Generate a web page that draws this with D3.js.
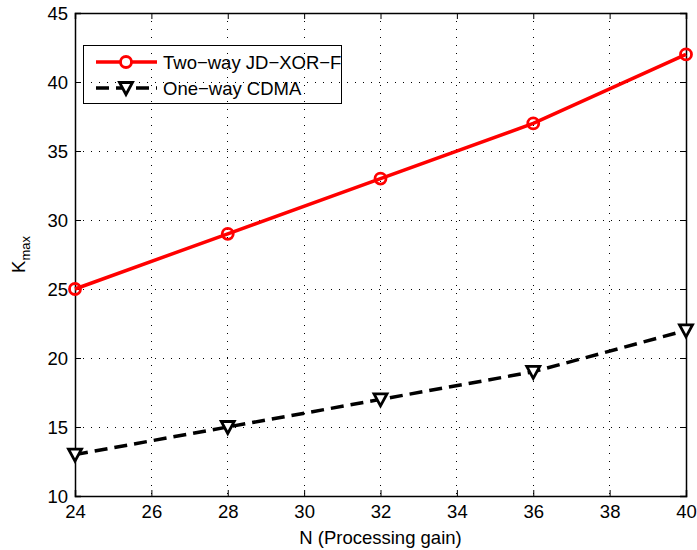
<!DOCTYPE html>
<html>
<head>
<meta charset="utf-8">
<script src="https://cdn.jsdelivr.net/npm/d3@7"></script>
<style>
  body { margin: 0; background: #fff; }
  text { font-family: "Liberation Sans", Arial, sans-serif; fill: #000; }
</style>
</head>
<body>
<div id="chart"></div>
<script>
// data
const processingGain = [24, 28, 32, 36, 40];
const twoWayJdXorF = [25, 29, 33, 37, 42];
const oneWayCdma = [13, 15, 17, 19, 22];
const xTicks = [24, 26, 28, 30, 32, 34, 36, 38, 40];
const yTicks = [10, 15, 20, 25, 30, 35, 40, 45];

const width = 697, height = 550;
const margin = {top: 13, right: 11, bottom: 54, left: 75};
const innerW = width - margin.left - margin.right;
const innerH = height - margin.top - margin.bottom;

const svg = d3.select('#chart').append('svg')
  .attr('width', width)
  .attr('height', height);

const g = svg.append('g')
  .attr('transform', `translate(${margin.left},${margin.top})`);

const x = d3.scaleLinear().domain([24, 40]).range([0, innerW]);
const y = d3.scaleLinear().domain([10, 45]).range([innerH, 0]);

// grid
g.append('g').selectAll('line').data(xTicks.slice(1, -1)).join('line')
  .attr('x1', d => x(d)).attr('x2', d => x(d))
  .attr('y1', 0).attr('y2', innerH)
  .attr('stroke', '#000').attr('stroke-width', 1)
  .attr('stroke-dasharray', '1,7').attr('shape-rendering', 'crispEdges');
g.append('g').selectAll('line').data(yTicks.slice(1, -1)).join('line')
  .attr('x1', 0).attr('x2', innerW)
  .attr('y1', d => y(d)).attr('y2', d => y(d))
  .attr('stroke', '#000').attr('stroke-width', 1)
  .attr('stroke-dasharray', '1,7').attr('shape-rendering', 'crispEdges');

// axes, ticks inside
const tickLen = 6;
const fontSize = 18.5;
const xAxis = g.append('g').attr('transform', `translate(0,${innerH})`)
  .call(d3.axisBottom(x).tickValues(xTicks).tickSize(-tickLen).tickPadding(9));
const xTop = g.append('g')
  .call(d3.axisTop(x).tickValues(xTicks).tickSize(-tickLen).tickFormat(''));
const yAxis = g.append('g')
  .call(d3.axisLeft(y).tickValues(yTicks).tickSize(-tickLen).tickPadding(7));
const yRight = g.append('g').attr('transform', `translate(${innerW},0)`)
  .call(d3.axisRight(y).tickValues(yTicks).tickSize(-tickLen).tickFormat(''));

[xAxis, xTop, yAxis, yRight].forEach(a => {
  a.select('.domain').attr('stroke', '#000').attr('stroke-width', 1.5);
  a.selectAll('.tick line').attr('stroke', '#000').attr('stroke-width', 1);
  a.selectAll('.tick text').attr('font-size', fontSize)
    .attr('font-family', '"Liberation Sans", Arial, sans-serif').attr('fill', '#000');
});
yAxis.selectAll('.tick text').attr('dy', '0.36em');

// lines
const line = d3.line().x((d, i) => x(processingGain[i])).y(d => y(d));

g.append('path').datum(twoWayJdXorF)
  .attr('d', line).attr('fill', 'none')
  .attr('stroke', '#ff0000').attr('stroke-width', 3.5);

g.append('path').datum(oneWayCdma)
  .attr('d', line).attr('fill', 'none')
  .attr('stroke', '#000').attr('stroke-width', 3.5)
  .attr('stroke-dasharray', '13,7');

// markers
const triangle = 'M-6.5,-5.5L6.5,-5.5L0,6.5Z';
g.append('g').selectAll('circle').data(twoWayJdXorF).join('circle')
  .attr('cx', (d, i) => x(processingGain[i])).attr('cy', d => y(d))
  .attr('r', 5.5).attr('fill', 'none')
  .attr('stroke', '#ff0000').attr('stroke-width', 2.8);

g.append('g').selectAll('path').data(oneWayCdma).join('path')
  .attr('transform', (d, i) => `translate(${x(processingGain[i])},${y(d)})`)
  .attr('d', triangle).attr('fill', '#fff')
  .attr('stroke', '#000').attr('stroke-width', 2.8)
  .attr('stroke-linejoin', 'miter');

// axis labels
svg.append('text')
  .attr('x', margin.left + innerW / 2).attr('y', 544)
  .attr('text-anchor', 'middle').attr('font-size', fontSize)
  .text('N (Processing gain)');

const yl = svg.append('text')
  .attr('transform', `translate(25,${margin.top + innerH / 2}) rotate(-90)`)
  .attr('text-anchor', 'middle').attr('font-size', fontSize);
yl.append('tspan').text('K');
yl.append('tspan').attr('font-size', 13).attr('dy', 5).text('max');

// legend
const legend = svg.append('g');
const legendRows = [
  {label: 'Two\u2212way JD\u2212XOR\u2212F', y: 62, color: '#ff0000', dash: null, marker: 'circle'},
  {label: 'One\u2212way CDMA', y: 88, color: '#000', dash: '13,7', marker: 'triangle'}
];
legendRows.forEach(r => {
  legend.append('line')
    .attr('x1', 96).attr('x2', 157).attr('y1', r.y).attr('y2', r.y)
    .attr('stroke', r.color).attr('stroke-width', 3.5)
    .attr('stroke-dasharray', r.dash);
  if (r.marker === 'circle') {
    legend.append('circle').attr('cx', 126).attr('cy', r.y).attr('r', 5.5)
      .attr('fill', '#fff').attr('stroke', r.color).attr('stroke-width', 2.8);
  } else {
    legend.append('path').attr('transform', `translate(126,${r.y})`)
      .attr('d', triangle).attr('fill', '#fff')
      .attr('stroke', r.color).attr('stroke-width', 2.8);
  }
  legend.append('text').attr('x', 163).attr('y', r.y + 6.5)
    .attr('font-size', fontSize).text(r.label);
});
legend.append('rect')
  .attr('x', 83.5).attr('y', 45.5).attr('width', 258).attr('height', 58)
  .attr('fill', 'none').attr('stroke', '#000').attr('stroke-width', 1);
</script>
</body>
</html>
